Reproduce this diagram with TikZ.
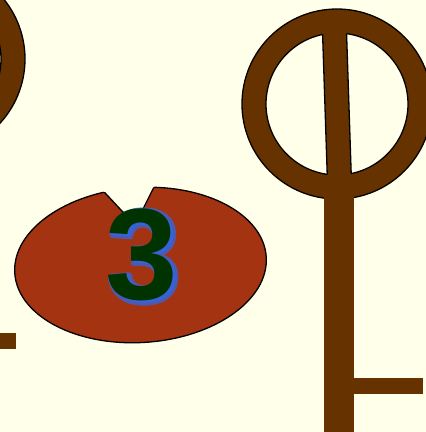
\documentclass[tikz,border=0pt]{standalone}
\usepackage{fontspec}
\setmainfont{Liberation Sans}
\usepackage{xcolor}
\definecolor{Parchment}{HTML}{FFFFEA}
\definecolor{Umber}{HTML}{663300}
\definecolor{Rust}{HTML}{A33311}
\definecolor{ForestInk}{HTML}{003300}
\definecolor{GlowBlue}{HTML}{2A6AF2}

\begin{document}
\begin{tikzpicture}[
  x=1pt, y=-1pt,
  outline/.style={draw=black, line width=1.3pt},
  umberfill/.style={fill=Umber},
  hole/.style={fill=Parchment},
  digit/.style={font=\fontsize{130}{130}\selectfont\bfseries, inner sep=0pt},
  glow/.style={digit, text=GlowBlue, opacity=0.7},
  phisign/.pic={
    \draw[umberfill, outline] (0,0) circle (95);
    \begin{scope}
      \clip (0,0) circle (71);
      \fill[hole] (-100,-100) -- (-15.4,-100) -- (-8.8,100) -- (-100,100) -- cycle;
      \fill[hole] (8.6,-100) -- (100,-100) -- (100,100) -- (15.2,100) -- cycle;
      \draw[outline] (-15.4,-100) -- (-8.8,100);
      \draw[outline] (8.6,-100) -- (15.2,100);
    \end{scope}
    \begin{scope}
      \clip (-100,-100) -- (-15.4,-100) -- (-8.8,100) -- (-100,100) -- cycle
            (8.6,-100) -- (100,-100) -- (100,100) -- (15.2,100) -- cycle;
      \draw[outline] (0,0) circle (71);
    \end{scope}
    % stem and side branch
    \fill[umberfill] (-13,86) rectangle (17,340);
    \fill[umberfill] (17,274) rectangle (86,290);
  },
]

\clip (0,0) rectangle (426,432);
\fill[Parchment] (0,0) rectangle (426,432);

\pic (leftsign) at (-70,59) {phisign};
\pic (rightsign) at (337,104) {phisign};

% red plate with the notch
\draw[fill=Rust, outline, rotate around={3.7:(140.5,265)}] (140.5,265) ellipse [x radius=126, y radius=77.5];
\coordinate (notchL) at (93,180);
\coordinate (notchV) at (135,225);
\coordinate (notchR) at (162,171);
\fill[hole] (notchL) -- (notchV) -- (notchR) -- cycle;
\begin{scope}
  \clip[rotate around={3.7:(140.5,265)}] (140.5,265) ellipse [x radius=126, y radius=77.5];
  \draw[outline] (notchL) -- (notchV) -- (notchR);
\end{scope}

\node[glow] (threeglow) at (144,256.5) {\special{pdf:literal direct 2 Tr 6 w 1 j}3\special{pdf:literal direct 0 Tr}};
\node[digit, text=ForestInk] (three) at (142,255) {3};

\end{tikzpicture}
\end{document}
